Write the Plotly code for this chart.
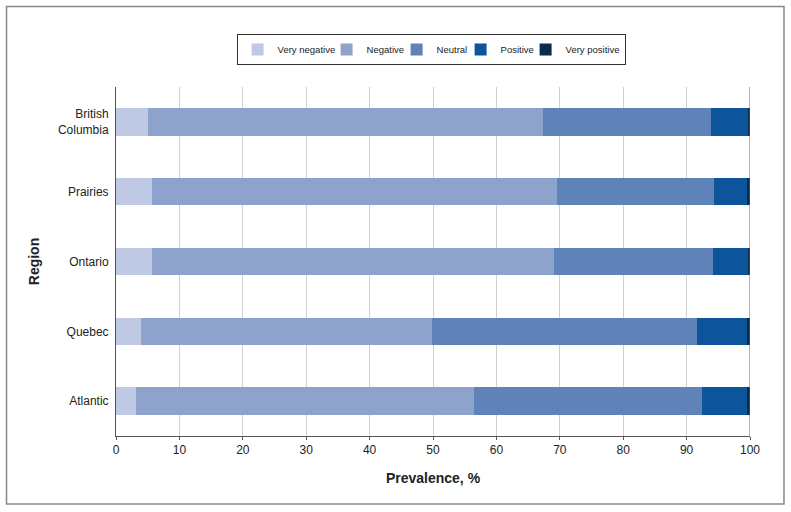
import plotly.graph_objects as go

regions = ["Atlantic", "Quebec", "Ontario", "Prairies", "British<br>Columbia"]
series_names = ["Very negative", "Negative", "Neutral", "Positive", "Very positive"]
colors = ["#c0c9e4", "#8ea3cc", "#5f82b8", "#0d559b", "#0a2a4e"]

very_negative = [3.1, 3.9, 5.7, 5.6, 5.05]
negative = [53.4, 45.9, 63.4, 63.9, 62.25]
neutral = [36.0, 41.8, 25.1, 24.8, 26.5]
positive = [7.1, 7.9, 5.5, 5.2, 6.0]
very_positive = [0.4, 0.5, 0.3, 0.5, 0.2]

values = [very_negative, negative, neutral, positive, very_positive]
legend_widths = [44, 25, 19, 20, 0]

fig = go.Figure()
for name, col, vals, lw in zip(series_names, colors, values, legend_widths):
    fig.add_trace(go.Bar(
        y=regions, x=vals, name=name, orientation="h",
        marker=dict(color=col, line=dict(width=0)),
        width=0.39, legendwidth=lw,
    ))

fig.update_layout(
    barmode="stack",
    width=791, height=512,
    margin=dict(l=116, r=41, t=87, b=76),
    paper_bgcolor="white", plot_bgcolor="white",
    font=dict(family="Liberation Sans, Arial, sans-serif", size=12, color="#222"),
    showlegend=True,
    legend=dict(
        orientation="h", x=0.497, xanchor="center", y=1.152, yanchor="top",
        bordercolor="#333", borderwidth=1, font=dict(size=9.5, color="#222"),
        traceorder="normal", itemwidth=30,
    ),
    xaxis=dict(
        range=[0, 100], dtick=10, showgrid=True, gridcolor="#d0d0d0", gridwidth=1,
        showline=True, linecolor="#555", linewidth=1, zeroline=False,
        ticks="outside", ticklen=3, tickcolor="#555",
        tickfont=dict(size=12, color="#222"),
        title=dict(text="<b>Prevalence, %</b>", font=dict(size=14, color="#222"), standoff=16),
    ),
    yaxis=dict(
        showline=True, linecolor="#555", linewidth=1, showgrid=False,
        ticks="", tickfont=dict(size=12, color="#222"), range=[-0.5, 4.5],
        ticklabelstandoff=4,
        title=dict(text="<b>Region</b>", font=dict(size=14, color="#222"), standoff=14),
    ),
    shapes=[
        dict(type="line", xref="x", yref="paper", x0=100, x1=100, y0=0, y1=1,
             line=dict(color="#666", width=1)),
        dict(type="rect", xref="paper", yref="paper",
             x0=-0.1727, x1=1.0536, y0=-0.1948, y1=1.2307,
             line=dict(color="#888", width=1.5), fillcolor="rgba(0,0,0,0)", layer="below"),
    ],
)

fig.write_html("out.html", config={"displayModeBar": False},
               post_script="document.body.style.margin='0px';document.body.style.padding='0px';")
